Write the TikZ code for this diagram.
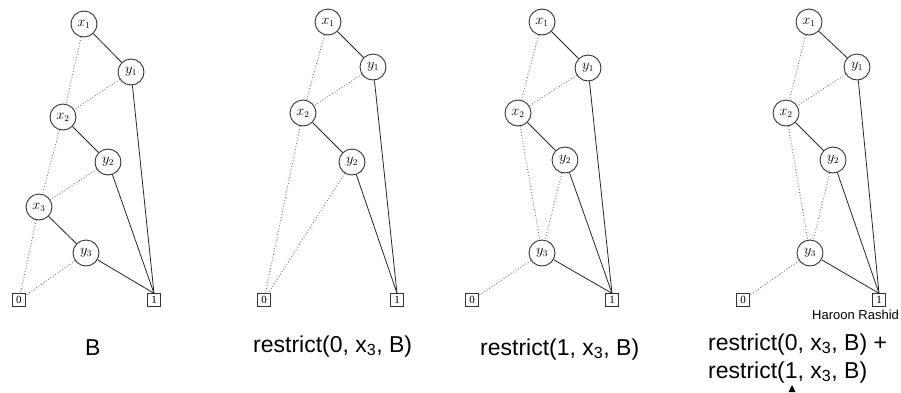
\documentclass[tikz,border=0pt]{standalone}
\usepackage{fontspec}
\setmainfont{Liberation Sans}
\newfontfamily\leaffont{Liberation Serif}
\begin{document}
\begin{tikzpicture}[x=1pt,y=-1pt,
  var/.style={circle,draw=black!80,line width=0.9pt,minimum size=26pt,inner sep=0pt,
    fill=white,font=\fontsize{13.5}{13.5}\selectfont},
  leaf/.style={rectangle,draw=black!80,line width=0.9pt,minimum size=12.5pt,inner sep=0pt,
    fill=white,font=\leaffont\fontsize{11}{11}\selectfont},
  hi/.style={draw=black!85,line width=0.8pt},
  lo/.style={draw=black!55,line width=0.9pt,dotted},
  caption/.style={anchor=base west,inner sep=0pt,font=\fontsize{23}{23}\selectfont},
  credit/.style={anchor=base west,inner sep=0pt,font=\fontsize{13}{13}\selectfont}]
\useasboundingbox (0,0) rectangle (901,392);

% ---- B ----
\node[var]  (a-x1) at (84,24)  {$x_1$};
\node[var]  (a-y1) at (131,72) {$y_1$};
\node[var]  (a-x2) at (63,117) {$x_2$};
\node[var]  (a-y2) at (108,162){$y_2$};
\node[var]  (a-x3) at (39,207) {$x_3$};
\node[var]  (a-y3) at (86,253) {$y_3$};
\node[leaf] (a-0)  at (19,300) {0};
\node[leaf] (a-1)  at (154,300){1};
\draw[hi] (a-x1) -- (a-y1);
\draw[lo] (a-x1) -- (a-x2);
\draw[lo] (a-y1) -- (a-x2);
\draw[hi] (a-y1) -- (a-1.north);
\draw[hi] (a-x2) -- (a-y2);
\draw[lo] (a-x2) -- (a-x3);
\draw[lo] (a-y2) -- (a-x3);
\draw[hi] (a-y2) -- (a-1.north);
\draw[hi] (a-x3) -- (a-y3);
\draw[lo] (a-x3) -- (a-0);
\draw[lo] (a-y3) -- (a-0);
\draw[hi] (a-y3) -- (a-1.north);

% ---- restrict(0, x3, B) ----
\node[var]  (b-x1) at (328,22) {$x_1$};
\node[var]  (b-y1) at (373,67) {$y_1$};
\node[var]  (b-x2) at (303,113){$x_2$};
\node[var]  (b-y2) at (352,162){$y_2$};
\node[leaf] (b-0)  at (264,300){0};
\node[leaf] (b-1)  at (397,300){1};
\draw[hi] (b-x1) -- (b-y1);
\draw[lo] (b-x1) -- (b-x2);
\draw[lo] (b-y1) -- (b-x2);
\draw[hi] (b-y1) -- (b-1.north);
\draw[hi] (b-x2) -- (b-y2);
\draw[lo] (b-x2) -- (b-0);
\draw[lo] (b-y2) -- (b-0);
\draw[hi] (b-y2) -- (b-1.north);

% ---- restrict(1, x3, B) ----
\node[var]  (c-x1) at (542,22) {$x_1$};
\node[var]  (c-y1) at (588,68) {$y_1$};
\node[var]  (c-x2) at (518,113){$x_2$};
\node[var]  (c-y2) at (565,160){$y_2$};
\node[var]  (c-y3) at (542,253){$y_3$};
\node[leaf] (c-0)  at (472,300){0};
\node[leaf] (c-1)  at (612,300){1};
\draw[hi] (c-x1) -- (c-y1);
\draw[lo] (c-x1) -- (c-x2);
\draw[lo] (c-y1) -- (c-x2);
\draw[hi] (c-y1) -- (c-1.north);
\draw[hi] (c-x2) -- (c-y2);
\draw[lo] (c-x2) -- (c-y3);
\draw[lo] (c-y2) -- (c-y3);
\draw[hi] (c-y2) -- (c-1.north);
\draw[lo] (c-y3) -- (c-0);
\draw[hi] (c-y3) -- (c-1.north);

% ---- sum of both restrictions ----
\node[var]  (d-x1) at (809,22) {$x_1$};
\node[var]  (d-y1) at (857,67) {$y_1$};
\node[var]  (d-x2) at (786,113){$x_2$};
\node[var]  (d-y2) at (833,160){$y_2$};
\node[var]  (d-y3) at (810,253){$y_3$};
\node[leaf] (d-0)  at (743,300){0};
\node[leaf] (d-1)  at (879,300){1};
\draw[hi] (d-x1) -- (d-y1);
\draw[lo] (d-x1) -- (d-x2);
\draw[lo] (d-y1) -- (d-x2);
\draw[hi] (d-y1) -- (d-1.north);
\draw[hi] (d-x2) -- (d-y2);
\draw[lo] (d-x2) -- (d-y3);
\draw[lo] (d-y2) -- (d-y3);
\draw[hi] (d-y2) -- (d-1.north);
\draw[lo] (d-y3) -- (d-0);
\draw[hi] (d-y3) -- (d-1.north);

% ---- captions ----
\node[caption] (cap-a)  at (85,355)  {B};
\node[caption] (cap-b)  at (253,352) {restrict(0, x\textsubscript{3}, B)};
\node[caption] (cap-c)  at (480,355) {restrict(1, x\textsubscript{3}, B)};
\node[caption] (cap-d1) at (708,350) {restrict(0, x\textsubscript{3}, B) +};
\node[caption] (cap-d2) at (708,378) {restrict(1, x\textsubscript{3}, B)};
\node[credit]  (credit) at (812,319) {Haroon Rashid};

% pointer tip below the last caption
\fill (792,385) -- (788.5,392) -- (795.5,392) -- cycle;
\end{tikzpicture}
\end{document}
